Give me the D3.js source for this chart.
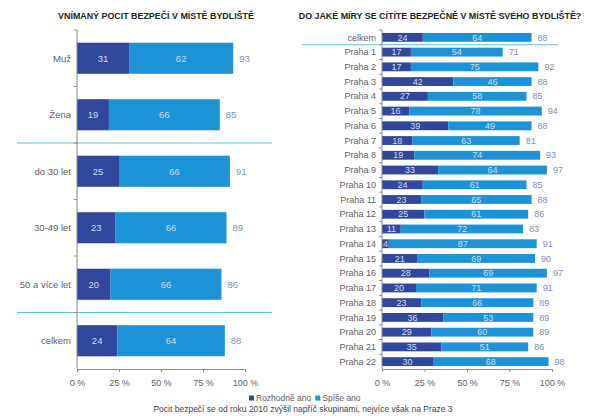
<!DOCTYPE html>
<html><head><meta charset="utf-8">
<script src="https://cdn.jsdelivr.net/npm/d3@7/dist/d3.min.js"></script>
<style>
body{margin:0;background:#fff;}
svg{display:block;font-family:"Liberation Sans",Arial,sans-serif;}
</style></head>
<body><svg id="c" width="590" height="416"></svg>
<script>
const leftCats = ["Muž","Žena","do 30 let","30-49 let","50 a více let","celkem"];
const leftDefinitely = [31,19,25,23,20,24];
const leftRather = [62,66,66,66,66,64];
const leftTotal = [93,85,91,89,86,88];

const rightCats = ["celkem","Praha 1","Praha 2","Praha 3","Praha 4","Praha 5","Praha 6","Praha 7","Praha 8","Praha 9","Praha 10","Praha 11","Praha 12","Praha 13","Praha 14","Praha 15","Praha 16","Praha 17","Praha 18","Praha 19","Praha 20","Praha 21","Praha 22"];
const rightDefinitely = [24,17,17,42,27,16,39,18,19,33,24,23,25,11,4,21,28,20,23,36,29,35,30];
const rightRather = [64,54,75,46,58,78,49,63,74,64,61,65,61,72,87,69,69,71,66,53,60,51,68];
const rightTotal = [88,71,92,88,85,94,88,81,93,97,85,88,86,83,91,90,97,91,89,89,89,86,98];

const xTicks = [0,25,50,75,100];
const tickLabels = ["0 %","25 %","50 %","75 %","100 %"];
const seriesNames = ["Rozhodně ano","Spíše ano"];
const titles = ["VNÍMANÝ POCIT BEZPEČÍ V MÍSTĚ BYDLIŠTĚ","DO JAKÉ MÍRY SE CÍTÍTE BEZPEČNĚ V MÍSTĚ SVÉHO BYDLIŠTĚ?"];
const footnote = "Pocit bezpečí se od roku 2010 zvýšil napříč skupinami, nejvíce však na Praze 3";

const DARK = "#31479b", LIGHT = "#1c93d6", SEP = "#5cc3e6", TOT = "#7d8cbd", INNER = "#d2dff2", AX = "#8a8a8a", TXT = "#5e5e5e";
const svg = d3.select("#c");

function panel(o){
  const g = svg.append("g");
  const x = d3.scaleLinear().domain([0,100]).range([o.x0,o.x1]);
  const y = d3.scaleBand().domain(o.cats).range([30,369]).paddingInner(o.pad).paddingOuter(o.pad/2);
  const step = y.step();
  g.append("text").attr("x",o.tx).attr("y",19).attr("text-anchor","middle")
    .attr("font-size",8.9).attr("font-weight","bold").attr("fill","#222").text(o.title);
  o.seps.forEach(c=>{
    const yy = y(c) - step*o.pad/2;
    g.append("line").attr("x1",o.sx0).attr("x2",o.sx1).attr("y1",yy).attr("y2",yy)
      .attr("stroke",SEP).attr("stroke-width",1);
  });
  o.cats.forEach((c,i)=>{
    const d1 = o.d1[i], d2 = o.d2[i];
    g.append("rect").attr("x",x(0)).attr("y",y(c)).attr("width",x(d1)-x(0)).attr("height",y.bandwidth()).attr("fill",DARK);
    g.append("rect").attr("x",x(d1)).attr("y",y(c)).attr("width",x(d1+d2)-x(d1)).attr("height",y.bandwidth()).attr("fill",LIGHT);
    const cy = y(c)+y.bandwidth()/2;
    g.append("text").attr("x",x(d1/2)).attr("y",cy).attr("dy","0.35em").attr("text-anchor","middle")
      .attr("font-size",o.fs).attr("fill",INNER).text(d1);
    g.append("text").attr("x",x(d1+d2/2)).attr("y",cy).attr("dy","0.35em").attr("text-anchor","middle")
      .attr("font-size",o.fs).attr("fill",INNER).text(d2);
    g.append("text").attr("x",x(o.tot[i])+6).attr("y",cy).attr("dy","0.35em")
      .attr("font-size",o.fs).attr("fill",TOT).text(o.tot[i]);
    g.append("text").attr("x",x(0)-6).attr("y",cy).attr("dy","0.35em").attr("text-anchor","end")
      .attr("font-size",o.lfs).attr("fill",TXT).text(c);
  });
  g.append("line").attr("x1",x(0)).attr("x2",x(0)).attr("y1",y.range()[0]).attr("y2",y.range()[1]).attr("stroke",AX);
  o.cats.forEach(c=>{
    const yy = y(c) - step*o.pad/2;
    g.append("line").attr("x1",x(0)-3).attr("x2",x(0)).attr("y1",yy).attr("y2",yy).attr("stroke",AX);
  });
  const ax = g.append("g").attr("transform",`translate(0,${y.range()[1]})`)
    .call(d3.axisBottom(x).tickValues(xTicks).tickSize(3).tickPadding(8).tickFormat((d,i)=>tickLabels[i]));
  ax.select(".domain").attr("stroke",AX);
  ax.selectAll(".tick line").attr("stroke",AX);
  ax.selectAll("text").attr("font-size",9).attr("fill",TXT).attr("font-family","Liberation Sans, Arial, sans-serif");
}

panel({cats:leftCats,d1:leftDefinitely,d2:leftRather,tot:leftTotal,x0:77,x1:245,pad:0.45,
  title:titles[0],tx:156,seps:["do 30 let","celkem"],sx0:17,sx1:272,fs:9.5,lfs:9.5});
panel({cats:rightCats,d1:rightDefinitely,d2:rightRather,tot:rightTotal,x0:382,x1:552,pad:0.4,
  title:titles[1],tx:440,seps:["Praha 1"],sx0:302,sx1:558,fs:9,lfs:9});

const lg = svg.append("g").attr("transform","translate(249,401)");
let lx = 0;
seriesNames.forEach((n,i)=>{
  lg.append("rect").attr("x",lx).attr("y",-5.5).attr("width",5).attr("height",5).attr("fill",i?LIGHT:DARK);
  const t = lg.append("text").attr("x",lx+7).attr("y",0).attr("font-size",8.5).attr("fill",TXT).text(n);
  lx += 7 + t.node().getComputedTextLength() + 4;
});
svg.append("text").attr("x",303).attr("y",412).attr("text-anchor","middle").attr("font-size",8.5).attr("fill","#444").text(footnote);
</script></body></html>
